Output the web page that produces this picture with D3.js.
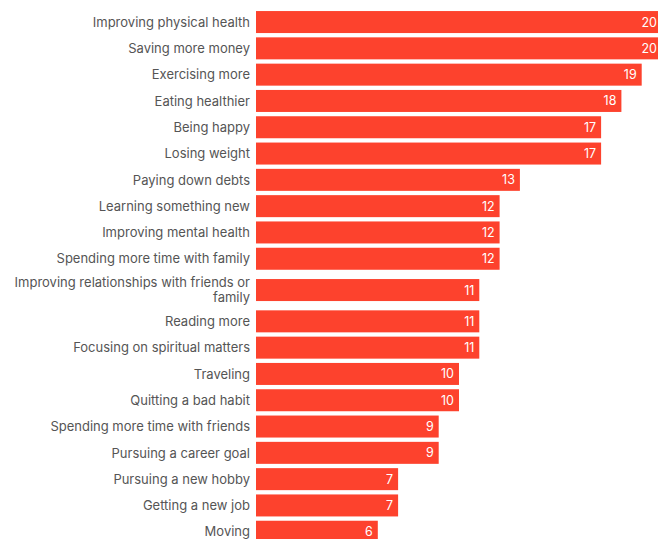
<!DOCTYPE html>
<html>
<head>
<meta charset="utf-8">
<script src="https://cdn.jsdelivr.net/npm/d3@7"></script>
<style>
  body { margin: 0; background: #fff; }
  svg { display: block; }
</style>
</head>
<body>
<div id="chart"></div>
<script>
// goals and share of respondents (%)
const goals = [
  "Improving physical health",
  "Saving more money",
  "Exercising more",
  "Eating healthier",
  "Being happy",
  "Losing weight",
  "Paying down debts",
  "Learning something new",
  "Improving mental health",
  "Spending more time with family",
  "Improving relationships with friends or family",
  "Reading more",
  "Focusing on spiritual matters",
  "Traveling",
  "Quitting a bad habit",
  "Spending more time with friends",
  "Pursuing a career goal",
  "Pursuing a new hobby",
  "Getting a new job",
  "Moving"
];
const values = [20, 20, 19, 18, 17, 17, 13, 12, 12, 12, 11, 11, 11, 10, 10, 9, 9, 7, 7, 6];

const w = 658, h = 539;
const labelRight = 250;
const barH = 22;

const svg = d3.select("#chart").append("svg")
  .attr("width", w)
  .attr("height", h);

// label lines (wrap the long one like the original)
function splitLabel(s) {
  if (s.length > 34) {
    const cut = s.lastIndexOf(" ", 39);
    return [s.slice(0, cut), s.slice(cut + 1)];
  }
  return [s];
}
const lines = goals.map(splitLabel);

// rows with two lines take more room
const units = lines.map(l => l.length > 1 ? 1.38 : 1);
const starts = [];
let acc = 0;
units.forEach(u => { starts.push(acc); acc += u; });

const yScale = d3.scaleLinear()
  .domain([0, 1])
  .range([8.9, 35.2]);

const xScale = d3.scaleLinear()
  .domain([0, 20])
  .range([256, 662]);

const rows = goals.map((g, i) => ({
  goal: g,
  value: values[i],
  lines: lines[i],
  cy: yScale(starts[i] + units[i] / 2)
}));

const row = svg.selectAll("g.row")
  .data(rows)
  .enter()
  .append("g")
  .attr("class", "row");

row.append("rect")
  .attr("x", xScale(0))
  .attr("y", d => d.cy - barH / 2)
  .attr("width", d => xScale(d.value) - xScale(0))
  .attr("height", barH)
  .attr("fill", "#fd422d");

row.append("text")
  .attr("x", d => xScale(d.value) - 5)
  .attr("y", d => d.cy)
  .attr("dy", "0.36em")
  .attr("text-anchor", "end")
  .attr("fill", "#fff")
  .attr("font-family", "Inter, 'Open Sans', sans-serif")
  .attr("font-size", 12.5)
  .text(d => d.value);

const lbl = row.append("text")
  .attr("text-anchor", "end")
  .attr("fill", "#555")
  .attr("font-family", "Inter, 'Open Sans', sans-serif")
  .attr("font-size", 13);

lbl.selectAll("tspan")
  .data(d => d.lines.map((t, j) => ({ t, j, n: d.lines.length, cy: d.cy })))
  .enter()
  .append("tspan")
  .attr("x", labelRight)
  .attr("y", d => d.cy + (d.j - (d.n - 1) / 2) * 15)
  .attr("dy", "0.36em")
  .text(d => d.t);
</script>
</body>
</html>
